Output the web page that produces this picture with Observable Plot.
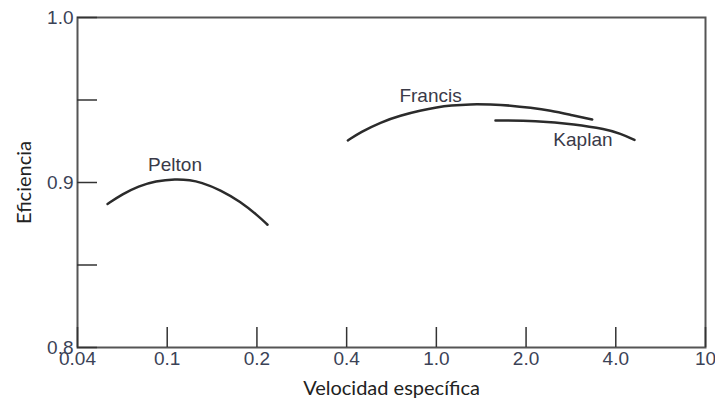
<!DOCTYPE html>
<html><head><meta charset="utf-8">
<script src="https://cdn.jsdelivr.net/npm/d3@7"></script>
<script src="https://cdn.jsdelivr.net/npm/@observablehq/plot@0.6"></script>
<style>body{margin:0;background:#fff}</style>
</head><body><div id="chart"></div>
<script>
const xTicks = [0.04, 0.1, 0.2, 0.4, 1, 2, 4, 10];
const xTickLabels = ["0.04", "0.1", "0.2", "0.4", "1.0", "2.0", "4.0", "10"];
const yTicks = [0.8, 0.85, 0.9, 0.95, 1.0];
const yTickLabels = ["0.8", "", "0.9", "", "1.0"];

const peltonX = [0.0601, 0.0701, 0.0808, 0.0922, 0.1093, 0.126, 0.1371, 0.1594, 0.1817, 0.2013, 0.2236];
const peltonY = [0.887, 0.893, 0.8978, 0.9009, 0.9022, 0.9015, 0.9002, 0.8956, 0.8883, 0.8801, 0.8744];
const francisX = [0.408, 0.493, 0.627, 0.760, 0.894, 1.009, 1.157, 1.380, 1.603, 1.826, 2.098, 2.544, 2.990, 3.474];
const francisY = [0.9255, 0.9305, 0.9365, 0.9406, 0.9436, 0.9456, 0.9467, 0.9475, 0.9473, 0.9467, 0.9453, 0.9436, 0.941, 0.9382];
const kaplanX = [1.659, 2.21, 3.101, 3.770, 4.314, 5.25];
const kaplanY = [0.9376, 0.9374, 0.9353, 0.9323, 0.9297, 0.9258];

const labelNames = ["Pelton", "Francis", "Kaplan"];
const labelX = [0.1087, 0.961, 3.268];
const labelY = [0.9109, 0.9527, 0.9258];

const xTitle = "Velocidad específica";
const yTitle = "Eficiencia";

const series = [
  {name: "Pelton", xs: peltonX, ys: peltonY},
  {name: "Francis", xs: francisX, ys: francisY},
  {name: "Kaplan", xs: kaplanX, ys: kaplanY}
];
const rows = series.flatMap(s => s.xs.map((x, i) => ({turbina: s.name, x, y: s.ys[i]})));
const labels = labelNames.map((n, i) => ({n, x: labelX[i], y: labelY[i]}));

const chart = Plot.plot({
  width: 715, height: 406,
  marginLeft: 77, marginRight: 10, marginTop: 17, marginBottom: 59,
  style: {fontFamily: "'Liberation Sans', Arial, sans-serif", fontSize: "19px", color: "#3b4256", background: "#fff"},
  x: {type: "linear", domain: xTicks},
  y: {domain: [0.8, 1.0]},
  marks: [
    Plot.frame({stroke: "#555", strokeWidth: 2}),
    Plot.axisX({ticks: xTicks, tickFormat: d => xTickLabels[xTicks.indexOf(d)], tickSize: -20, tickPadding: 24, stroke: "#333", strokeWidth: 1.5, label: null}),
    Plot.axisY({ticks: yTicks, tickFormat: d => yTickLabels[yTicks.indexOf(d)], tickSize: -20, tickPadding: 24, stroke: "#333", strokeWidth: 1.5, label: null}),
    Plot.line(rows, {x: "x", y: "y", z: "turbina", curve: "basis", stroke: "#2b2b2b", strokeWidth: 2.5}),
    Plot.text(labels, {x: "x", y: "y", text: "n", fill: "#3a3a48", fontSize: 19}),
    Plot.text([xTitle], {frameAnchor: "bottom", dy: 41, textAnchor: "middle", lineAnchor: "middle", fontFamily: "Lato, sans-serif", fontSize: 20, fill: "#222"}),
    Plot.text([yTitle], {frameAnchor: "left", dx: -53, rotate: -90, textAnchor: "middle", lineAnchor: "middle", fontFamily: "Lato, sans-serif", fontSize: 20, fill: "#222"})
  ]
});
document.getElementById("chart").appendChild(chart);
</script>
</body></html>
